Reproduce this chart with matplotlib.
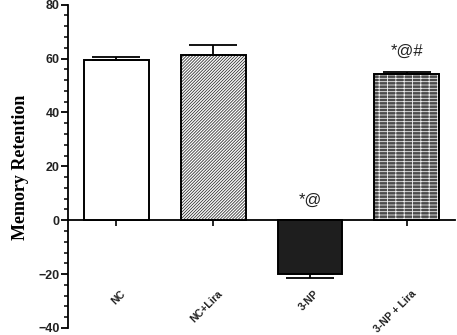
import matplotlib
matplotlib.use("Agg")
import matplotlib.pyplot as plt
from matplotlib.ticker import MultipleLocator

groups = ["NC", "NC+Lira", "3-NP", "3-NP + Lira"]
means = [59.5, 61.4, -20.1, 54.1]
errors = [1.0, 3.6, 1.2, 1.1]
marks = ["", "", "*@", "*@#"]

fig = plt.figure(figsize=(4.57, 3.35), dpi=100)
ax = fig.add_axes([0.149, 0.021, 0.847, 0.965])

x = list(range(len(groups)))
w = 0.67

plt.rcParams['hatch.linewidth'] = 0.6

# plain and hatched bars
ax.bar(x[0], means[0], w, color="white", edgecolor="black", linewidth=1.4, zorder=3)
ax.bar(x[1], means[1], w, color="white", edgecolor="#333333", hatch="/" * 11, linewidth=0, zorder=3)
ax.bar(x[1], means[1], w, color="none", edgecolor="black", linewidth=1.4, zorder=4)
ax.bar(x[2], means[2], w, color="#1e1e1e", edgecolor="black", linewidth=1.4, zorder=3)
# brick-like fill: grey with white lines, then black outline on top
ax.bar(x[3], means[3], w, color="#4a4a4a", edgecolor="#f0f0f0", hatch="-----||", linewidth=0, zorder=3)
ax.bar(x[3], means[3], w, color="none", edgecolor="black", linewidth=1.4, zorder=4)

# one-sided error bars
for i in x:
    sign = 1 if means[i] >= 0 else -1
    ax.errorbar(i, means[i], yerr=[[0], [errors[i]]] if sign > 0 else [[errors[i]], [0]],
                fmt="none", ecolor="black", elinewidth=1.3, capsize=17, capthick=1.3, zorder=5)

for i in x:
    if marks[i]:
        if means[i] < 0:
            y = 7.5
        else:
            y = means[i] + errors[i] + 7.5
        ax.text(i, y, marks[i], ha="center", va="center", fontsize=12,
                family="Liberation Sans", color="#222222")

ax.set_xlim(-0.5, 3.5)
ax.set_ylim(-40, 80)
ax.yaxis.set_major_locator(MultipleLocator(20))
ax.yaxis.set_minor_locator(MultipleLocator(4))

ax.spines["top"].set_visible(False)
ax.spines["right"].set_visible(False)
ax.spines["bottom"].set_position(("data", 0))
ax.spines["left"].set_linewidth(1.3)
ax.spines["bottom"].set_linewidth(1.3)

ax.set_xticks(x)
ax.set_xticklabels([])
ax.tick_params(axis="x", direction="out", length=4, width=1.2)
ax.tick_params(axis="y", which="major", length=5, width=1.3, labelsize=9, pad=1)
ax.tick_params(axis="y", which="minor", length=3, width=1.1)
for lab in ax.get_yticklabels():
    lab.set_family("Liberation Sans")
    lab.set_fontweight("bold")
    lab.set_color("#222222")

trans = ax.get_xaxis_transform()
for i, g in enumerate(groups):
    ax.text(i + 0.04, 0.122, g, transform=trans, rotation=45, ha="right", va="top",
            rotation_mode="anchor", fontsize=7.6, fontweight="bold",
            family="Liberation Sans", color="#222222")

fig.text(0.045, 0.5, "Memory Retention", rotation=90, ha="center", va="center",
         fontsize=13, fontweight="bold", family="Liberation Serif")

fig.savefig("out.png", dpi=100)
